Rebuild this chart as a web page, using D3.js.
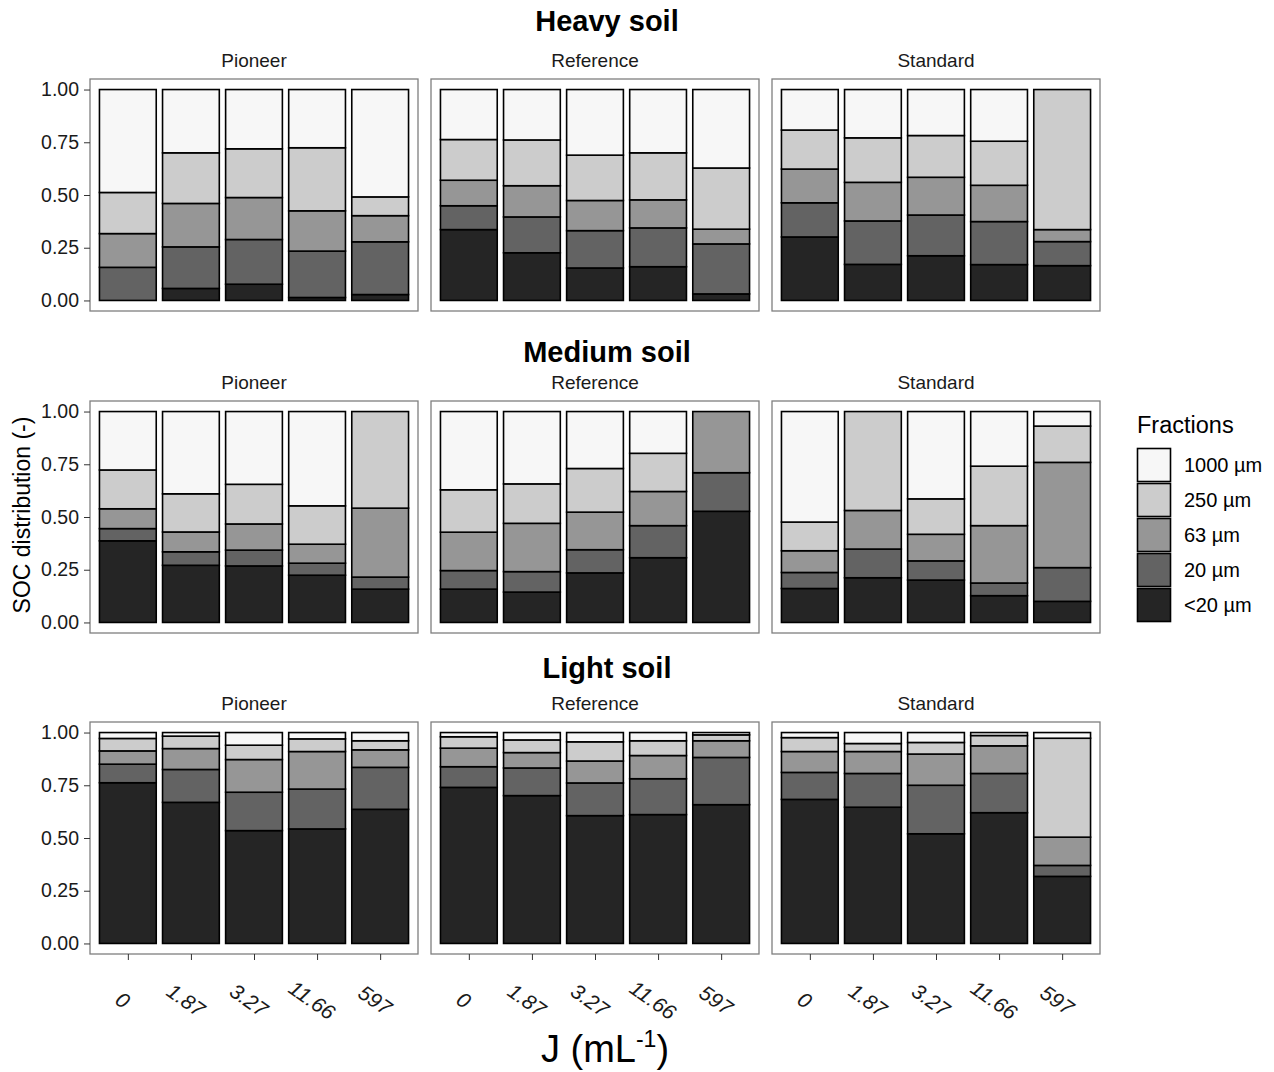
<!DOCTYPE html>
<html>
<head>
<meta charset="utf-8">
<script src="https://cdn.jsdelivr.net/npm/d3@7"></script>
<style>
  body { margin: 0; background: #fff; }
  text { font-family: "Liberation Sans", Arial, sans-serif; }
</style>
</head>
<body>
<script>
// data: share of each fraction, order <20, 20, 63, 250, 1000 µm, one row per dose
var doses = ["0", "1.87", "3.27", "11.66", "597"];
var treatments = ["Pioneer", "Reference", "Standard"];
var soils = ["Heavy soil", "Medium soil", "Light soil"];
var fractions = ["<20 µm", "20 µm", "63 µm", "250 µm", "1000 µm"];
var greys = ["#252525", "#636363", "#969696", "#cccccc", "#f7f7f7"];

var heavyPioneer = [
  [0.000, 0.157, 0.160, 0.195, 0.488],
  [0.057, 0.197, 0.206, 0.240, 0.300],
  [0.077, 0.212, 0.199, 0.231, 0.281],
  [0.014, 0.220, 0.191, 0.299, 0.276],
  [0.028, 0.250, 0.124, 0.089, 0.509]
];
var heavyReference = [
  [0.336, 0.113, 0.121, 0.193, 0.237],
  [0.226, 0.170, 0.148, 0.217, 0.239],
  [0.154, 0.177, 0.143, 0.215, 0.311],
  [0.160, 0.184, 0.133, 0.223, 0.300],
  [0.031, 0.237, 0.070, 0.290, 0.372]
];
var heavyStandard = [
  [0.301, 0.162, 0.160, 0.185, 0.192],
  [0.171, 0.206, 0.183, 0.211, 0.229],
  [0.212, 0.193, 0.179, 0.198, 0.218],
  [0.170, 0.204, 0.172, 0.209, 0.245],
  [0.165, 0.114, 0.057, 0.664, 0.000]
];
var mediumPioneer = [
  [0.387, 0.058, 0.094, 0.184, 0.277],
  [0.271, 0.064, 0.094, 0.181, 0.390],
  [0.268, 0.075, 0.124, 0.188, 0.345],
  [0.224, 0.057, 0.090, 0.182, 0.447],
  [0.158, 0.057, 0.327, 0.458, 0.000]
];
var mediumReference = [
  [0.158, 0.088, 0.182, 0.201, 0.371],
  [0.144, 0.097, 0.229, 0.187, 0.343],
  [0.235, 0.110, 0.178, 0.207, 0.270],
  [0.307, 0.152, 0.162, 0.181, 0.198],
  [0.527, 0.183, 0.290, 0.000, 0.000]
];
var mediumStandard = [
  [0.161, 0.076, 0.103, 0.136, 0.524],
  [0.212, 0.136, 0.183, 0.469, 0.000],
  [0.201, 0.091, 0.126, 0.168, 0.414],
  [0.127, 0.060, 0.272, 0.282, 0.259],
  [0.100, 0.160, 0.499, 0.172, 0.069]
];
var lightPioneer = [
  [0.762, 0.088, 0.063, 0.059, 0.028],
  [0.669, 0.156, 0.099, 0.059, 0.017],
  [0.535, 0.182, 0.155, 0.068, 0.060],
  [0.543, 0.189, 0.178, 0.060, 0.030],
  [0.636, 0.199, 0.083, 0.043, 0.039]
];
var lightReference = [
  [0.740, 0.098, 0.088, 0.054, 0.020],
  [0.701, 0.131, 0.073, 0.060, 0.035],
  [0.606, 0.155, 0.104, 0.091, 0.044],
  [0.611, 0.170, 0.110, 0.070, 0.039],
  [0.658, 0.224, 0.079, 0.028, 0.011]
];
var lightStandard = [
  [0.683, 0.128, 0.099, 0.066, 0.024],
  [0.646, 0.160, 0.104, 0.038, 0.052],
  [0.520, 0.230, 0.148, 0.055, 0.047],
  [0.620, 0.186, 0.131, 0.049, 0.014],
  [0.318, 0.052, 0.134, 0.469, 0.027]
];
var yTicks = [0, 0.25, 0.5, 0.75, 1];

var panelData = [
  [heavyPioneer, heavyReference, heavyStandard],
  [mediumPioneer, mediumReference, mediumStandard],
  [lightPioneer, lightReference, lightStandard]
];

// layout
var W = 1274, H = 1072;
var panelW = 328, panelH = 232;
var panelX = [90, 431, 772];
var panelY = [79, 401, 722];
var titleY = [31, 362, 678];

var svg = d3.select("body").append("svg")
  .attr("width", W)
  .attr("height", H);

var x = d3.scalePoint().domain(doses).range([0, panelW]).padding(0.6);
var barW = x.step() * 0.9;
var y = d3.scaleLinear().domain([-0.05, 1.05]).range([panelH, 0]);

var stack = d3.stack()
  .keys(d3.range(fractions.length))
  .value(function(d, k) { return d.vals[k]; });

soils.forEach(function(soil, r) {
  svg.append("text")
    .attr("x", 607)
    .attr("y", titleY[r])
    .attr("text-anchor", "middle")
    .style("font-size", "29px")
    .style("font-weight", "bold")
    .text(soil);

  treatments.forEach(function(tr, c) {
    var g = svg.append("g")
      .attr("transform", "translate(" + panelX[c] + "," + panelY[r] + ")");

    // strip label
    g.append("text")
      .attr("x", panelW / 2)
      .attr("y", -12)
      .attr("text-anchor", "middle")
      .style("font-size", "19px")
      .style("fill", "#1a1a1a")
      .text(tr);

    var rows = panelData[r][c].map(function(v, i) { return {dose: doses[i], vals: v}; });
    var series = stack(rows);

    series.forEach(function(s, k) {
      g.selectAll(null)
        .data(s)
        .enter().append("rect")
        .attr("x", function(d) { return x(d.data.dose) - barW / 2; })
        .attr("y", function(d) { return y(d[1]); })
        .attr("width", barW)
        .attr("height", function(d) { return y(d[0]) - y(d[1]); })
        .attr("fill", greys[k])
        .attr("stroke", "#000")
        .attr("stroke-width", 1.6);
    });

    // panel border
    g.append("rect")
      .attr("width", panelW)
      .attr("height", panelH)
      .attr("fill", "none")
      .attr("stroke", "#7f7f7f")
      .attr("stroke-width", 1.3);

    if (c === 0) {
      var ya = g.append("g")
        .call(d3.axisLeft(y).tickValues(yTicks).tickFormat(d3.format(".2f")).tickSize(6).tickPadding(5));
      ya.select(".domain").remove();
      ya.selectAll("line").attr("stroke", "#333");
      ya.selectAll("text").style("font-size", "19.5px").style("fill", "#1a1a1a")
        .style("font-family", "Liberation Sans, Arial, sans-serif");
    }

    if (r === 2) {
      var xa = g.append("g")
        .attr("transform", "translate(0," + panelH + ")")
        .call(d3.axisBottom(x).tickSize(6).tickFormat(""));
      xa.select(".domain").remove();
      xa.selectAll("line").attr("stroke", "#333");
      g.selectAll(null)
        .data(doses)
        .enter().append("text")
        .attr("transform", function(d) {
          return "translate(" + (x(d) - 5) + "," + (panelH + 46) + ") rotate(35)";
        })
        .attr("text-anchor", "middle")
        .attr("dominant-baseline", "central")
        .style("font-size", "21px")
        .style("font-style", "italic")
        .style("fill", "#1a1a1a")
        .text(function(d) { return d; });
    }
  });
});

// axis titles
svg.append("text")
  .attr("transform", "translate(30,515) rotate(-90)")
  .attr("text-anchor", "middle")
  .style("font-size", "23px")
  .text("SOC distribution (-)");

var xt = svg.append("text")
  .attr("x", 605)
  .attr("y", 1062)
  .attr("text-anchor", "middle")
  .style("font-size", "38px");
xt.append("tspan").text("J (mL");
xt.append("tspan").attr("dy", -15).style("font-size", "23px").text("-1");
xt.append("tspan").attr("dy", 15).text(")");

// legend
var leg = svg.append("g").attr("transform", "translate(1137,0)");
leg.append("text")
  .attr("x", 0)
  .attr("y", 433)
  .style("font-size", "23.5px")
  .text("Fractions");

var legOrder = fractions.map(function(f, i) { return i; }).reverse();
leg.selectAll(null)
  .data(legOrder)
  .enter().append("rect")
  .attr("x", 0.5)
  .attr("y", function(d, i) { return 448.5 + i * 35; })
  .attr("width", 33)
  .attr("height", 33)
  .attr("fill", function(d) { return greys[d]; })
  .attr("stroke", "#000")
  .attr("stroke-width", 1.6);
leg.selectAll(null)
  .data(legOrder)
  .enter().append("text")
  .attr("x", 47)
  .attr("y", function(d, i) { return 465 + i * 35; })
  .attr("dominant-baseline", "central")
  .style("font-size", "20px")
  .text(function(d) { return fractions[d]; });
</script>
</body>
</html>
